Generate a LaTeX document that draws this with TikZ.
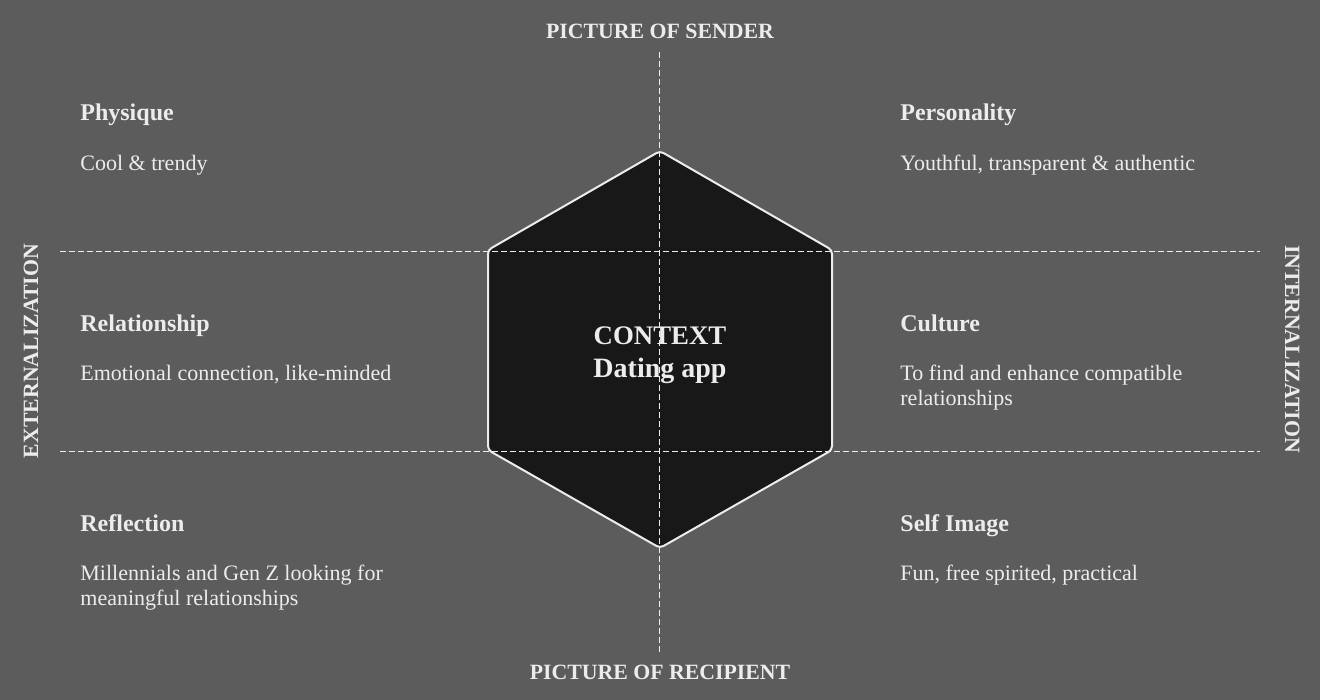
\documentclass[tikz,border=0pt]{standalone}
\usepackage{fontspec}
\setmainfont{Liberation Serif}
\definecolor{bggrey}{RGB}{92,92,92}
\definecolor{hexdark}{RGB}{24,24,24}
\definecolor{txtgrey}{RGB}{236,236,236}
\usetikzlibrary{positioning}

\begin{document}
\begin{tikzpicture}[x=0.5pt, y=-0.5pt,
  every node/.style={text=txtgrey, inner sep=0pt},
  axislbl/.style={font=\fontsize{10.9}{13}\selectfont\bfseries},
  head/.style={anchor=base west, font=\fontsize{12}{14}\selectfont\bfseries},
  body/.style={anchor=base west, align=left, font=\fontsize{11}{12.5}\selectfont},
  guide/.style={draw=txtgrey, line width=0.5pt, dash pattern=on 3pt off 1.5pt}]
% background
\fill[bggrey] (0,0) rectangle (1320,700);
\useasboundingbox (0,0) rectangle (1320,700);
% hexagon
\coordinate (htop) at (660,151);
\coordinate (hur) at (832,250);
\coordinate (hlr) at (832,450);
\coordinate (hbot) at (660,548);
\coordinate (hll) at (488,450);
\coordinate (hul) at (488,250);
\draw[fill=hexdark, draw=txtgrey, line width=1pt, rounded corners=2pt]
  (htop) -- (hur) -- (hlr) -- (hbot) -- (hll) -- (hul) -- cycle;
% guides
\coordinate (gtop) at (659,52);
\coordinate (gbot) at (659,652);
\coordinate (g1l) at (60,251);
\coordinate (g1r) at (1260,251);
\coordinate (g2l) at (60,451);
\coordinate (g2r) at (1260,451);
\draw[guide] (gtop) -- (gbot);
\draw[guide] (g1l) -- (g1r);
\draw[guide] (g2l) -- (g2r);
% axis labels
\node[axislbl, anchor=base] (sender) at (660,39) {PICTURE OF SENDER};
\node[axislbl, anchor=base] (recipient) at (660,679) {PICTURE OF RECIPIENT};
\node[axislbl, anchor=base, rotate=90] (extern) at (38,351) {EXTERNALIZATION};
\node[axislbl, anchor=base, rotate=-90] (intern) at (1285,349) {INTERNALIZATION};
% centre
\node[anchor=base, font=\fontsize{13.4}{15}\selectfont\bfseries] (context) at (660,344) {CONTEXT};
\node[anchor=base, font=\fontsize{14}{16}\selectfont\bfseries] (dating) at (660,377) {Dating app};
% left column
\node[head] (physique) at (80,121) {Physique};
\node[body] (physiquetxt) at (80,170) {Cool \& trendy};
\node[head] (relation) at (80,331) {Relationship};
\node[body] (relationtxt) at (80,380) {Emotional connection, like-minded};
\node[head] (reflection) at (80,531) {Reflection};
\node[body] (reflectiontxt) at (80,605) {Millennials and Gen Z looking for\\meaningful relationships};
% right column
\node[head] (personality) at (900,121) {Personality};
\node[body] (personalitytxt) at (900,170) {Youthful, transparent \& authentic};
\node[head] (culture) at (900,331) {Culture};
\node[body] (culturetxt) at (900,405) {To find and enhance compatible\\relationships};
\node[head] (selfimage) at (900,531) {Self Image};
\node[body] (selfimagetxt) at (900,580) {Fun, free spirited, practical};
\end{tikzpicture}
\end{document}
